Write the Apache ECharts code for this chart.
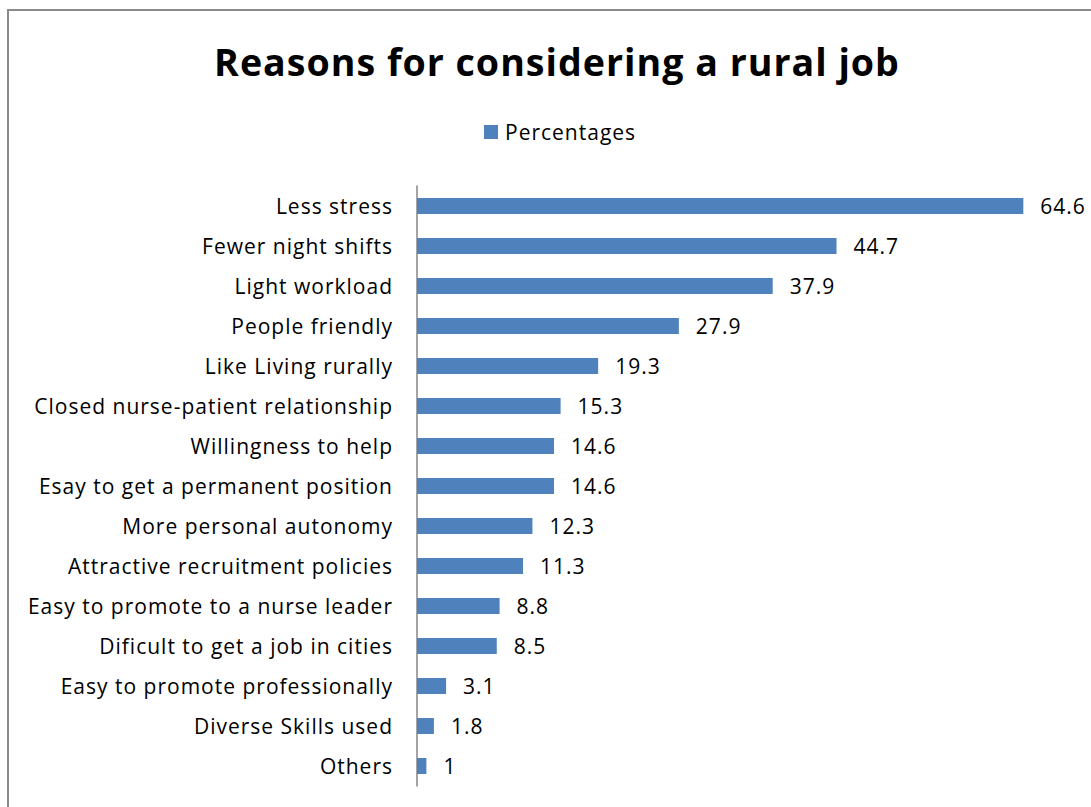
<!DOCTYPE html>
<html>
<head>
<meta charset="utf-8">
<script src="https://cdn.jsdelivr.net/npm/echarts@6/dist/echarts.min.js"></script>
<style>
  html, body { margin: 0; padding: 0; background: #ffffff; }
  #chart { width: 1091px; height: 807px; }
  /* slightly open tracking for every label, in the style of office charts */
  #chart svg text { letter-spacing: 1px; }
</style>
</head>
<body>
<div id="chart"></div>
<script>
// Reasons listed from top to bottom
const categories = [
  'Less stress',
  'Fewer night shifts',
  'Light workload',
  'People friendly',
  'Like Living rurally',
  'Closed nurse-patient relationship',
  'Willingness to help',
  'Esay to get a permanent position',
  'More personal autonomy',
  'Attractive recruitment policies',
  'Easy to promote to a nurse leader',
  'Dificult to get a job in cities',
  'Easy to promote professionally',
  'Diverse Skills used',
  'Others'
];
const percentages = [64.6, 44.7, 37.9, 27.9, 19.3, 15.3, 14.6, 14.6, 12.3, 11.3, 8.8, 8.5, 3.1, 1.8, 1];
const seriesName = 'Percentages';
const titleText = 'Reasons for considering a rural job';

const FONT = '"Open Sans", "Noto Sans", sans-serif';
const chart = echarts.init(document.getElementById('chart'), null, { renderer: 'svg' });

chart.setOption({
  backgroundColor: '#ffffff',
  animation: false,
  graphic: [{
    type: 'rect',
    shape: { x: 8, y: 10, width: 1200, height: 1000 },
    style: { fill: 'none', stroke: '#8a8a8a', lineWidth: 2 },
    silent: true
  }],
  title: {
    text: titleText,
    left: 552,
    top: 37,
    textAlign: 'center',
    textStyle: { fontFamily: FONT, fontWeight: 'bold', fontSize: 37.6, color: '#000000' }
  },
  legend: {
    data: [seriesName],
    left: 484,
    top: 121,
    padding: 0,
    icon: 'rect',
    itemWidth: 14,
    itemHeight: 14,
    itemGap: 8,
    textStyle: { fontFamily: FONT, fontSize: 21, lineHeight: 22, color: '#000000', padding: [0, 0, 0, 2] }
  },
  grid: { left: 417, top: 186, right: 17, bottom: 21, containLabel: false },
  xAxis: {
    type: 'value',
    min: 0,
    max: 70,
    show: false
  },
  yAxis: {
    type: 'category',
    data: categories,
    inverse: true,
    axisLine: { show: true, lineStyle: { color: '#868686', width: 1.5 } },
    axisTick: { show: false },
    axisLabel: { fontFamily: FONT, fontSize: 21, color: '#000000', margin: 24 },
    splitLine: { show: false }
  },
  series: [{
    name: seriesName,
    type: 'bar',
    data: percentages,
    barWidth: '40%',
    itemStyle: { color: '#4F81BD' },
    label: {
      show: true,
      position: 'right',
      distance: 17,
      fontFamily: FONT,
      fontSize: 21,
      color: '#000000'
    }
  }]
});
</script>
</body>
</html>
